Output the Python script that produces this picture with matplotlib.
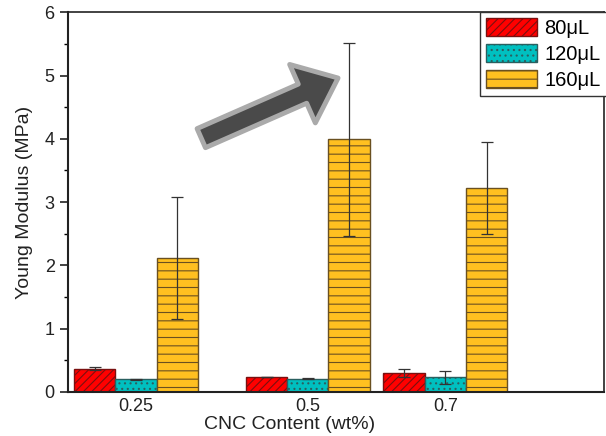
import numpy as np
import matplotlib.pyplot as plt

plt.rcParams['font.family'] = ['Liberation Sans', 'DejaVu Sans']
plt.rcParams['hatch.linewidth'] = 0.8

# data
cnc = [0.25, 0.5, 0.7]
labels = ['80\u03bcL', '120\u03bcL', '160\u03bcL']
mod_80 = [0.37, 0.23, 0.30]
err_80 = [0.03, 0.0, 0.07]
mod_120 = [0.20, 0.21, 0.23]
err_120 = [0.01, 0.01, 0.10]
mod_160 = [2.12, 3.99, 3.22]
err_160 = [0.96, 1.53, 0.73]

colors = ['#ff0000', '#00c0c0', '#ffc020']
hatches = ['////', '...', '--']
edges = ['#7a1010', '#2a6060', '#6a5020']

fig = plt.figure(figsize=(6.06, 4.36), dpi=100)
ax = fig.add_axes([0.112, 0.101, 0.885, 0.871])

w = 0.06
x = np.array(cnc)
series = [(mod_80, err_80), (mod_120, err_120), (mod_160, err_160)]
for i, (vals, errs) in enumerate(series):
    xs = x + (i - 1) * w
    ax.bar(xs, vals, width=w, color=colors[i], edgecolor=edges[i], hatch=hatches[i],
           linewidth=1.0, label=labels[i])
    ax.errorbar(xs, vals, yerr=errs, fmt='none', ecolor='#333333', elinewidth=0.9,
                capsize=4, capthick=0.9)

ax.set_xlim(0.151, 0.931)
ax.set_ylim(0, 6)
ax.set_xticks(cnc)
ax.set_xticklabels(['0.25', '0.5', '0.7'])
ax.set_yticks(range(7))
ax.set_yticks(np.arange(0.5, 6, 1.0), minor=True)
ax.tick_params(axis='x', length=0, labelsize=13, colors='#222222', pad=4)
ax.tick_params(axis='y', which='major', length=6, width=1.2, labelsize=13,
               colors='#222222', direction='out')
ax.tick_params(axis='y', which='minor', length=3, width=1.0, direction='out')
for s in ['left', 'bottom']:
    ax.spines[s].set_linewidth(1.5)
    ax.spines[s].set_color('#222222')
for s in ['top', 'right']:
    ax.spines[s].set_linewidth(1.2)
    ax.spines[s].set_color('#222222')

ax.set_xlabel('CNC Content (wt%)', fontsize=14, color='#222222', va='top')
ax.xaxis.set_label_coords(0.414, -0.064, transform=ax.transAxes)
ax.set_ylabel('Young Modulus (MPa)', fontsize=14, color='#222222', labelpad=8)

# trend arrow
ax.annotate('', xy=(0.544, 4.96), xytext=(0.345, 4.01),
            arrowprops=dict(arrowstyle='simple,head_length=1.4,head_width=2.3,tail_width=0.75',
                            facecolor='#4a4a4a', edgecolor='#aaaaaa', linewidth=3.5,
                            mutation_scale=20, shrinkA=0, shrinkB=0))

leg = ax.legend(loc='upper right', bbox_to_anchor=(1.005, 1.0), borderaxespad=0,
                fontsize=14.5, frameon=True, fancybox=False, edgecolor='#333333',
                handlelength=2.5, handleheight=1.0, handletextpad=0.4,
                labelspacing=0.3, borderpad=0.3)
leg.get_frame().set_linewidth(1.0)
leg.get_frame().set_alpha(1)

fig.savefig('out.png', dpi=100)
